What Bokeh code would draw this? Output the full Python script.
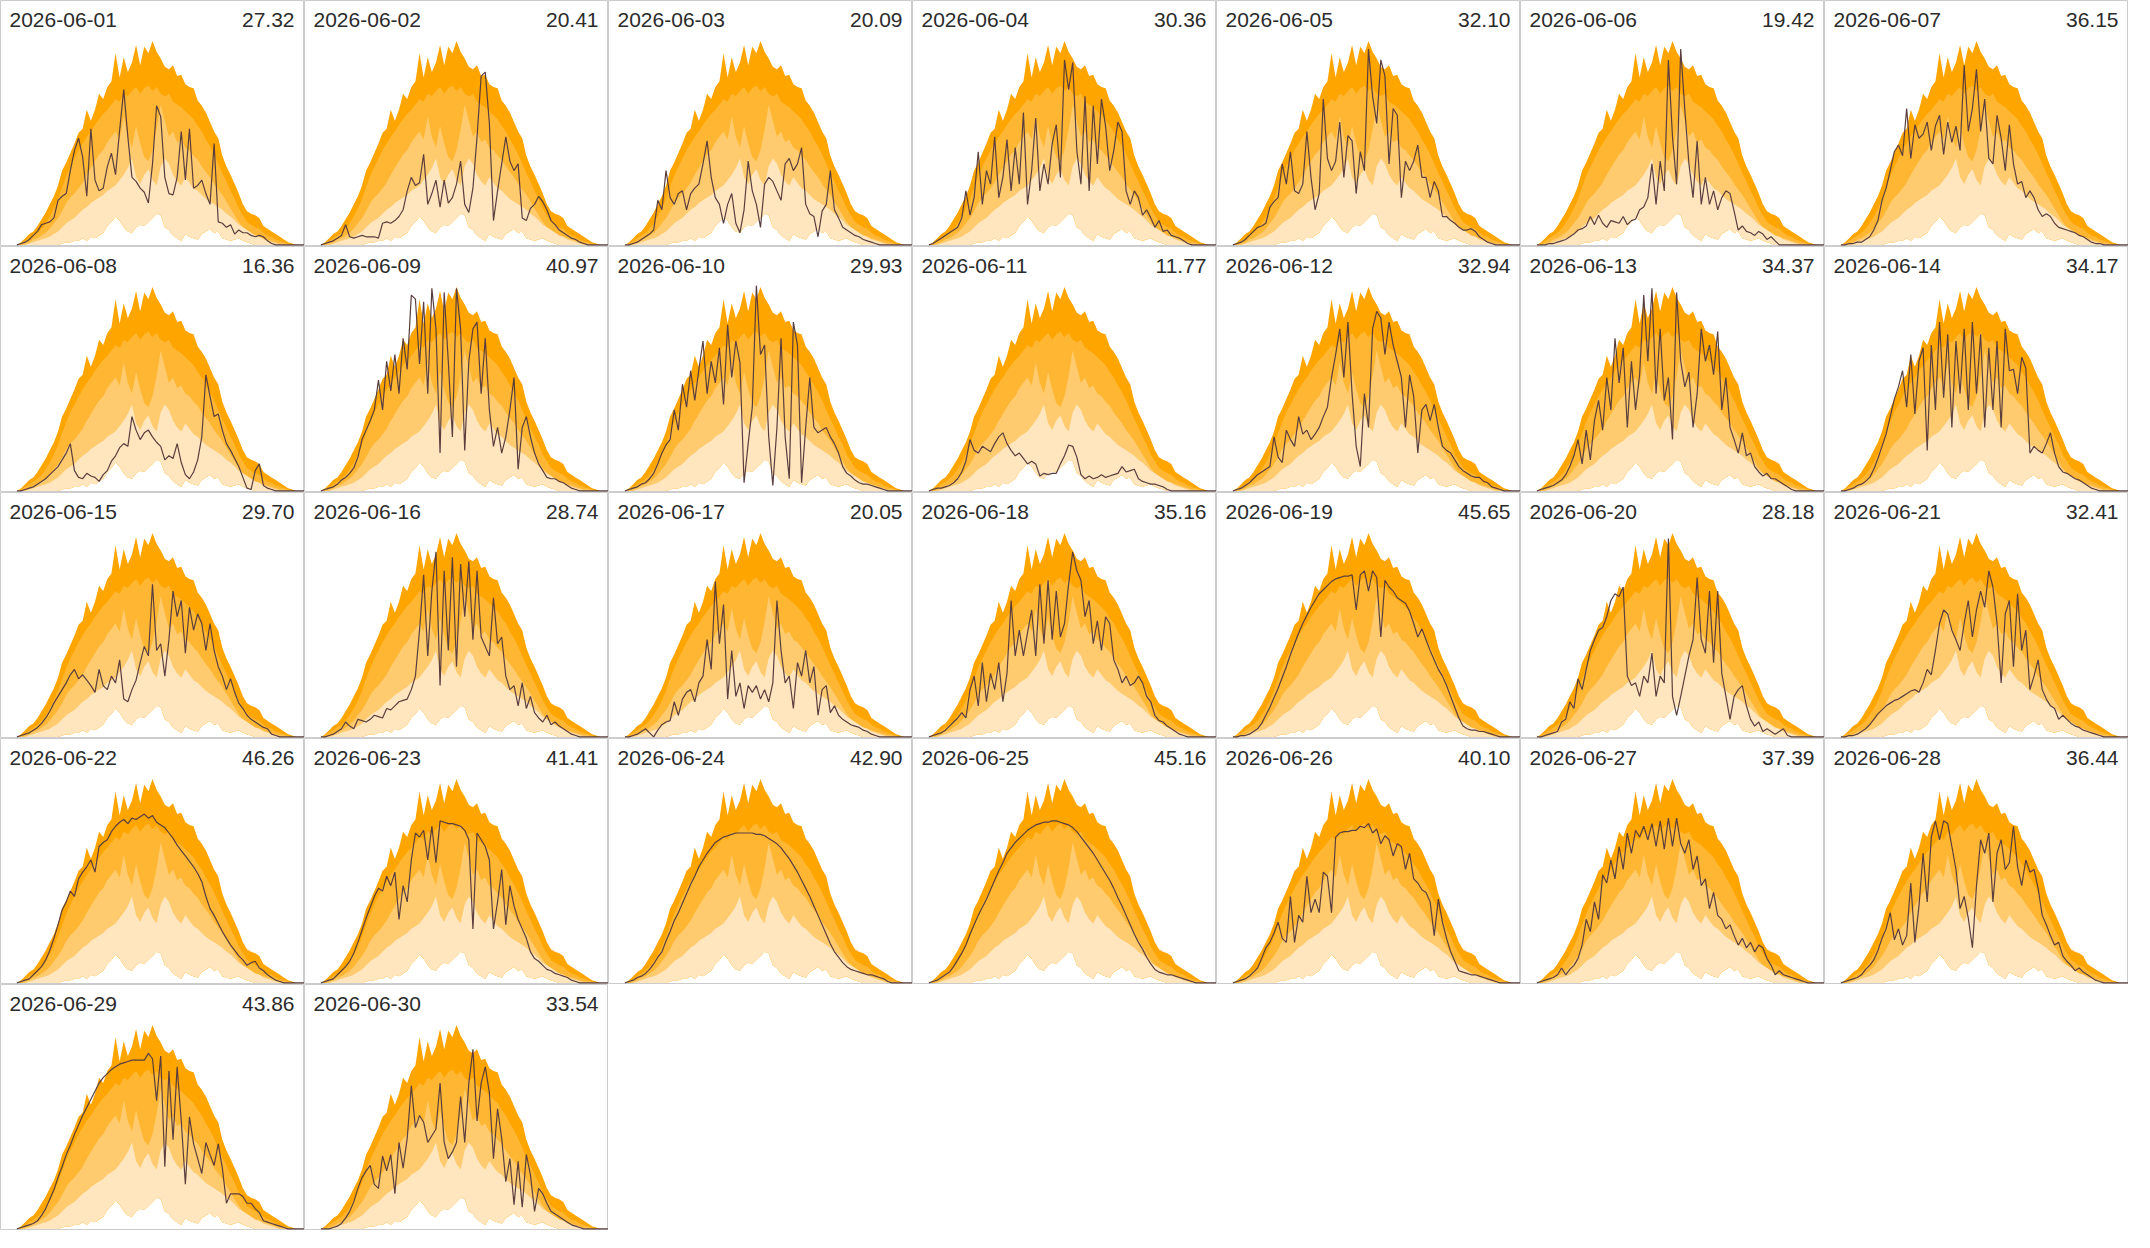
from bokeh.plotting import figure
from bokeh.layouts import gridplot
from bokeh.models import Label, Range1d
from bokeh.embed import file_html
from bokeh.resources import INLINE

# time of day (hours), 15-minute steps from 04:00 to 21:30
HOURS = [4.0 + 0.25 * i for i in range(71)]

# monthly climatology bands (same for every day)
BAND_MAX = [0, 2, 5, 8, 10, 14, 19, 24, 30, 36,
            44, 55, 61, 68, 75, 83, 86, 100, 92, 100,
            112, 108, 117, 121, 142, 124, 139, 128, 135, 148,
            133, 147, 142, 151, 143, 138, 132, 130, 133, 125,
            126, 119, 117, 116, 107, 103, 98, 91, 84, 79,
            66, 58, 52, 45, 38, 30, 25, 23, 22, 20,
            14, 12, 10, 8, 6, 4, 2, 1, 0, 0,
            0]
BAND_Q90 = [0, 1, 3, 5, 7, 9, 12, 16, 21, 27,
            34, 43, 51, 58, 64, 70, 75, 80, 84, 89,
            93, 97, 100, 104, 108, 106, 112, 110, 114, 117,
            112, 116, 118, 114, 117, 112, 110, 112, 106, 104,
            102, 99, 96, 93, 88, 84, 78, 73, 67, 60,
            53, 47, 40, 34, 27, 22, 17, 15, 13, 12,
            9, 7, 6, 4, 3, 2, 1, 0, 0, 0,
            0]
BAND_Q75 = [0, 0, 1, 2, 4, 5, 7, 9, 12, 16,
            20, 25, 31, 35, 38, 42, 46, 52, 57, 62,
            67, 70, 76, 80, 84, 78, 95, 80, 72, 88,
            75, 65, 62, 70, 85, 104, 92, 80, 84, 76,
            78, 72, 70, 66, 63, 58, 54, 50, 45, 41,
            37, 32, 27, 22, 17, 13, 11, 9, 7, 6,
            5, 4, 3, 2, 1, 1, 0, 0, 0, 0,
            0]
BAND_Q50 = [0, 0, 0, 1, 2, 3, 4, 5, 6, 8,
            10, 13, 16, 18, 20, 23, 26, 28, 31, 33,
            35, 37, 40, 42, 44, 48, 52, 57, 64, 50,
            45, 52, 56, 48, 44, 58, 64, 60, 52, 47,
            44, 50, 46, 42, 40, 37, 34, 32, 30, 28,
            26, 23, 21, 18, 15, 13, 11, 9, 7, 6,
            4, 3, 2, 1, 0, 0, 0, 0, 0, 0,
            0]
BAND_MIN = [0, 0, 0, 0, 0, 0, 0, 0, 0, 0,
            0, 1, 2, 2, 3, 3, 5, 3, 6, 5,
            7, 9, 14, 17, 21, 18, 13, 10, 9, 13,
            15, 14, 17, 20, 23, 22, 13, 11, 7, 5,
            3, 8, 6, 5, 4, 8, 10, 12, 9, 10,
            5, 4, 3, 4, 5, 3, 2, 1, 0, 0,
            0, 0, 0, 0, 0, 0, 0, 0, 0, 0,
            0]

DATES = ["2026-06-%02d" % d for d in range(1, 31)]
TOTALS = ["27.32", "20.41", "20.09", "30.36", "32.10", "19.42", "36.15",
          "16.36", "40.97", "29.93", "11.77", "32.94", "34.37", "34.17",
          "29.70", "28.74", "20.05", "35.16", "45.65", "28.18", "32.41",
          "46.26", "41.41", "42.90", "45.16", "40.10", "37.39", "36.44",
          "43.86", "33.54"]

D01 = [0, 1, 2, 4, 7, 10, 15, 16, 17, 20, 33, 36, 38, 55, 70, 79, 65, 36, 86, 48,
       40, 42, 58, 68, 52, 85, 115, 80, 50, 47, 42, 39, 31, 60, 103, 95, 50, 38, 37, 50,
       84, 48, 86, 42, 44, 48, 38, 30, 75, 17, 16, 13, 15, 8, 11, 9, 9, 7, 6, 7,
       6, 3, 1, 0, 0, 0, 0, 0, 0, 0, 0]
D02 = [0, 1, 2, 3, 5, 7, 15, 6, 5, 6, 7, 6, 6, 6, 5, 16, 17, 16, 18, 21,
       26, 40, 50, 44, 46, 67, 30, 38, 48, 28, 48, 31, 35, 45, 62, 30, 24, 42, 80, 125,
       128, 90, 18, 40, 60, 80, 62, 55, 60, 20, 18, 27, 30, 36, 32, 26, 18, 15, 11, 9,
       7, 5, 4, 2, 1, 0, 0, 0, 0, 0, 0]
D03 = [0, 0, 1, 2, 4, 6, 8, 11, 33, 26, 55, 35, 30, 38, 40, 26, 38, 42, 45, 60,
       77, 50, 35, 30, 16, 30, 38, 16, 9, 26, 62, 40, 30, 13, 45, 50, 47, 40, 33, 60,
       64, 55, 60, 72, 30, 23, 21, 6, 25, 30, 55, 26, 20, 13, 11, 9, 7, 6, 4, 3,
       2, 1, 0, 0, 0, 0, 0, 0, 0, 0, 0]
D04 = [0, 1, 3, 5, 7, 9, 11, 13, 20, 40, 22, 35, 69, 30, 55, 45, 80, 35, 50, 78,
       40, 72, 45, 98, 30, 55, 94, 40, 60, 45, 75, 89, 50, 137, 115, 135, 70, 45, 110, 40,
       103, 60, 108, 88, 55, 70, 91, 84, 40, 30, 40, 35, 22, 26, 20, 13, 18, 10, 11, 7,
       6, 5, 3, 1, 0, 0, 0, 0, 0, 0, 0]
D05 = [0, 1, 2, 4, 7, 10, 13, 14, 16, 28, 32, 35, 60, 45, 69, 40, 38, 45, 84, 50,
       26, 38, 108, 64, 55, 62, 91, 50, 81, 77, 38, 69, 55, 145, 110, 90, 137, 125, 60, 101,
       96, 35, 62, 55, 62, 74, 50, 50, 35, 47, 40, 21, 21, 18, 16, 13, 11, 11, 12, 10,
       6, 4, 2, 1, 0, 0, 0, 0, 0, 0, 0]
D06 = [0, 0, 0, 1, 1, 2, 3, 4, 6, 8, 11, 12, 14, 21, 15, 22, 16, 13, 18, 17,
       16, 21, 15, 18, 19, 26, 28, 35, 60, 30, 62, 40, 137, 80, 45, 145, 100, 60, 35, 77,
       30, 50, 30, 40, 26, 35, 40, 38, 25, 11, 14, 10, 9, 7, 10, 8, 4, 6, 3, 0,
       0, 0, 0, 0, 0, 0, 0, 0, 0, 0, 0]
D07 = [0, 0, 1, 1, 2, 2, 4, 6, 11, 18, 33, 42, 55, 69, 74, 66, 101, 64, 89, 79,
       82, 91, 70, 88, 96, 67, 91, 76, 88, 70, 133, 84, 101, 130, 84, 108, 64, 60, 96, 79,
       55, 89, 60, 45, 47, 35, 40, 35, 26, 21, 23, 21, 16, 13, 12, 11, 10, 9, 7, 6,
       4, 2, 1, 1, 0, 0, 0, 0, 0, 0, 0]
D08 = [0, 0, 1, 2, 3, 5, 7, 9, 12, 15, 18, 23, 28, 35, 15, 10, 9, 13, 11, 10,
       7, 12, 15, 22, 26, 32, 35, 33, 55, 45, 38, 43, 45, 40, 36, 33, 23, 26, 24, 35,
       21, 12, 9, 14, 23, 40, 86, 70, 55, 57, 45, 35, 30, 24, 18, 10, 2, 1, 15, 20,
       4, 2, 1, 0, 0, 0, 0, 0, 0, 0, 0]
D09 = [0, 1, 2, 3, 5, 8, 10, 13, 17, 25, 38, 45, 52, 60, 82, 60, 96, 74, 101, 72,
       113, 90, 145, 142, 94, 140, 72, 150, 120, 28, 147, 96, 40, 150, 120, 30, 96, 120, 125, 72,
       113, 60, 33, 47, 28, 40, 60, 84, 16, 47, 55, 40, 28, 20, 15, 10, 9, 9, 7, 6,
       4, 2, 1, 0, 0, 0, 0, 0, 0, 0, 0]
D10 = [0, 1, 2, 3, 5, 6, 9, 13, 20, 28, 34, 38, 60, 45, 79, 62, 89, 67, 90, 111,
       72, 96, 80, 106, 64, 123, 84, 111, 95, 6, 35, 62, 152, 101, 108, 40, 4, 47, 113, 40,
       9, 125, 108, 6, 47, 84, 47, 43, 45, 47, 40, 35, 28, 18, 13, 11, 8, 6, 5, 5,
       4, 3, 2, 1, 0, 0, 0, 0, 0, 0, 0]
D11 = [0, 1, 2, 2, 3, 4, 6, 9, 14, 22, 38, 30, 28, 33, 31, 29, 35, 40, 43, 35,
       30, 26, 28, 24, 20, 22, 20, 11, 13, 12, 13, 13, 20, 26, 34, 33, 25, 12, 9, 11,
       9, 10, 12, 10, 11, 12, 13, 18, 14, 15, 16, 9, 7, 6, 5, 5, 4, 3, 1, 0,
       0, 0, 0, 0, 0, 0, 0, 0, 0, 0, 0]
D12 = [0, 1, 2, 4, 6, 9, 12, 14, 16, 18, 40, 25, 21, 45, 38, 33, 55, 42, 45, 38,
       42, 47, 55, 62, 84, 101, 120, 84, 125, 72, 33, 18, 72, 47, 120, 133, 128, 101, 125, 108,
       96, 84, 47, 86, 70, 28, 60, 64, 52, 64, 47, 33, 30, 28, 23, 18, 15, 13, 11, 10,
       10, 7, 6, 3, 2, 1, 0, 0, 0, 0, 0]
D13 = [0, 1, 2, 3, 4, 6, 8, 12, 18, 26, 38, 20, 45, 23, 52, 67, 45, 84, 60, 113,
       80, 106, 47, 96, 60, 86, 145, 96, 150, 72, 120, 67, 84, 38, 147, 96, 77, 88, 47, 72,
       120, 96, 108, 86, 118, 60, 84, 47, 38, 28, 43, 26, 28, 18, 14, 11, 13, 9, 9, 7,
       5, 3, 1, 0, 0, 0, 0, 0, 0, 0, 0]
D14 = [0, 0, 1, 2, 4, 5, 7, 10, 16, 24, 33, 42, 55, 68, 77, 89, 62, 101, 57, 96,
       106, 30, 108, 60, 125, 69, 116, 47, 111, 72, 120, 60, 125, 72, 116, 47, 106, 60, 111, 47,
       120, 89, 90, 72, 99, 91, 28, 33, 30, 28, 35, 43, 28, 18, 14, 13, 11, 9, 8, 6,
       4, 2, 1, 0, 0, 0, 0, 0, 0, 0, 0]
D15 = [0, 1, 2, 3, 5, 7, 10, 14, 19, 25, 30, 35, 40, 46, 50, 43, 46, 42, 38, 33,
       50, 38, 35, 45, 40, 57, 28, 26, 35, 42, 55, 67, 60, 113, 64, 69, 45, 72, 108, 89,
       101, 62, 96, 79, 91, 84, 64, 84, 64, 52, 45, 35, 43, 33, 25, 21, 16, 13, 11, 9,
       7, 6, 2, 1, 0, 0, 0, 0, 0, 0, 0]
D16 = [0, 0, 1, 2, 4, 6, 11, 8, 6, 13, 12, 11, 13, 16, 15, 14, 21, 20, 23, 26,
       27, 28, 35, 45, 79, 120, 60, 108, 137, 38, 123, 64, 133, 52, 128, 89, 130, 72, 123, 74,
       67, 60, 103, 69, 74, 45, 35, 38, 23, 40, 21, 30, 18, 14, 11, 16, 9, 11, 8, 6,
       4, 2, 1, 0, 0, 0, 0, 0, 0, 0, 0]
D17 = [0, 0, 1, 2, 4, 6, 3, 0, 5, 9, 11, 12, 26, 16, 28, 33, 35, 26, 40, 45,
       72, 50, 115, 69, 98, 28, 64, 30, 40, 21, 38, 33, 38, 28, 35, 26, 40, 101, 64, 40,
       45, 21, 55, 45, 64, 40, 52, 16, 35, 38, 18, 23, 16, 13, 11, 9, 8, 7, 5, 4,
       2, 1, 0, 0, 0, 0, 0, 0, 0, 0, 0]
D18 = [0, 1, 2, 3, 5, 8, 11, 14, 18, 14, 35, 45, 23, 55, 26, 47, 35, 55, 26, 47,
       101, 60, 79, 60, 77, 94, 60, 113, 69, 116, 72, 108, 74, 84, 113, 137, 123, 116, 89, 101,
       69, 86, 64, 89, 84, 57, 50, 40, 45, 38, 40, 45, 40, 30, 26, 16, 12, 11, 8, 6,
       4, 2, 1, 0, 0, 0, 0, 0, 0, 0, 0]
D19 = [0, 0, 1, 1, 2, 4, 6, 10, 16, 22, 29, 36, 44, 52, 61, 69, 77, 84, 90, 96,
       101, 106, 109, 112, 115, 117, 118, 119, 119, 120, 94, 120, 123, 108, 123, 118, 74, 116, 111, 108,
       103, 101, 99, 93, 84, 74, 80, 72, 64, 57, 50, 45, 38, 30, 22, 14, 8, 6, 5, 5,
       4, 4, 3, 2, 1, 0, 0, 0, 0, 0, 0]
D20 = [0, 0, 1, 2, 3, 4, 11, 13, 26, 21, 43, 35, 50, 64, 72, 79, 81, 89, 101, 106,
       104, 111, 45, 38, 40, 30, 45, 40, 62, 30, 45, 40, 147, 30, 16, 30, 45, 60, 72, 118,
       72, 62, 108, 55, 108, 47, 30, 13, 30, 35, 38, 23, 13, 8, 11, 4, 6, 4, 2, 4,
       6, 1, 0, 0, 0, 0, 0, 0, 0, 0, 0]
D21 = [0, 0, 1, 1, 2, 4, 6, 9, 13, 17, 20, 23, 25, 27, 28, 30, 32, 34, 35, 33,
       40, 50, 46, 64, 84, 94, 91, 79, 72, 64, 84, 101, 74, 94, 108, 96, 123, 111, 84, 40,
       91, 101, 52, 106, 64, 79, 35, 45, 57, 35, 28, 23, 21, 13, 16, 13, 10, 8, 7, 5,
       4, 3, 2, 1, 0, 0, 0, 0, 0, 0, 0]
D22 = [0, 1, 2, 3, 6, 9, 12, 17, 24, 33, 43, 54, 60, 68, 64, 77, 82, 86, 91, 82,
       101, 104, 106, 112, 116, 119, 121, 118, 122, 121, 123, 125, 122, 124, 119, 117, 115, 111, 107, 102,
       98, 94, 90, 86, 81, 75, 64, 55, 50, 44, 38, 33, 28, 24, 20, 17, 13, 15, 16, 11,
       9, 6, 4, 2, 1, 0, 0, 0, 0, 0, 0]
D23 = [0, 1, 2, 3, 6, 9, 12, 16, 22, 30, 39, 48, 56, 64, 70, 68, 79, 72, 82, 47,
       72, 60, 91, 111, 108, 113, 91, 116, 89, 120, 119, 118, 118, 117, 116, 113, 106, 40, 111, 106,
       101, 91, 40, 60, 84, 43, 72, 57, 47, 40, 33, 23, 18, 16, 13, 10, 9, 7, 6, 5,
       4, 2, 1, 0, 0, 0, 0, 0, 0, 0, 0]
D24 = [0, 1, 2, 4, 5, 7, 10, 14, 19, 23, 31, 38, 46, 52, 59, 66, 73, 79, 86, 91,
       96, 100, 104, 106, 108, 109, 110, 111, 111, 111, 111, 111, 110, 110, 109, 107, 105, 103, 100, 96,
       92, 87, 82, 76, 70, 64, 57, 50, 43, 36, 29, 23, 19, 15, 12, 10, 9, 8, 7, 6,
       6, 5, 4, 3, 1, 0, 0, 0, 0, 0, 0]
D25 = [0, 1, 2, 4, 6, 8, 12, 17, 22, 28, 36, 43, 50, 56, 62, 69, 76, 83, 89, 96,
       100, 104, 107, 110, 113, 115, 117, 118, 119, 119, 120, 120, 119, 118, 117, 115, 112, 108, 104, 100,
       96, 91, 86, 81, 76, 70, 63, 57, 50, 43, 36, 30, 25, 19, 14, 10, 8, 7, 6, 6,
       5, 4, 3, 2, 1, 0, 0, 0, 0, 0, 0]
D26 = [0, 1, 2, 3, 5, 8, 11, 18, 26, 30, 37, 45, 33, 30, 64, 30, 50, 45, 79, 52,
       62, 52, 82, 79, 52, 108, 111, 112, 112, 113, 113, 116, 115, 118, 111, 114, 103, 109, 106, 94,
       103, 101, 84, 96, 77, 74, 69, 67, 60, 35, 62, 45, 33, 23, 16, 9, 8, 7, 6, 6,
       5, 4, 3, 2, 1, 0, 0, 0, 0, 0, 0]
D27 = [0, 1, 2, 3, 4, 6, 11, 6, 10, 13, 18, 28, 47, 38, 60, 47, 80, 74, 91, 77,
       101, 84, 111, 96, 113, 108, 116, 106, 118, 101, 120, 99, 122, 101, 122, 103, 96, 106, 84, 94,
       72, 77, 55, 67, 50, 47, 40, 43, 35, 28, 33, 26, 30, 23, 28, 26, 18, 13, 6, 9,
       6, 5, 4, 3, 2, 1, 0, 0, 0, 0, 0]
D28 = [0, 1, 2, 3, 4, 6, 10, 13, 17, 24, 33, 40, 52, 32, 40, 28, 35, 74, 30, 57,
       96, 60, 108, 120, 106, 120, 118, 101, 84, 55, 64, 48, 26, 72, 106, 96, 111, 60, 96, 106,
       84, 89, 116, 86, 72, 91, 82, 84, 70, 50, 43, 35, 28, 30, 20, 16, 13, 9, 11, 8,
       6, 4, 2, 1, 0, 0, 0, 0, 0, 0, 0]
D29 = [0, 1, 2, 3, 4, 6, 10, 15, 22, 29, 38, 46, 55, 62, 70, 77, 84, 90, 96, 102,
       108, 112, 115, 118, 120, 122, 123, 124, 125, 125, 125, 125, 130, 126, 95, 128, 46, 117, 66, 120,
       80, 33, 83, 63, 52, 41, 64, 55, 47, 63, 45, 19, 26, 26, 26, 24, 19, 19, 15, 12,
       6, 5, 4, 3, 2, 1, 0, 0, 0, 0, 0]
D30 = [0, 0, 0, 1, 2, 4, 8, 13, 20, 30, 38, 43, 47, 33, 30, 54, 43, 55, 26, 64,
       45, 67, 106, 75, 84, 79, 64, 69, 74, 108, 64, 52, 57, 64, 98, 64, 108, 133, 80, 108,
       120, 101, 52, 89, 67, 35, 52, 18, 50, 16, 55, 40, 13, 30, 26, 19, 13, 11, 9, 7,
       5, 3, 2, 1, 0, 0, 0, 0, 0, 0, 0]

DAY_SERIES = [D01, D02, D03, D04, D05, D06, D07, D08, D09, D10,
              D11, D12, D13, D14, D15, D16, D17, D18, D19, D20,
              D21, D22, D23, D24, D25, D26, D27, D28, D29, D30]

BAND_COLORS = ["#FFA500", "#FFB733", "#FFCB6E", "#FFE6BE"]
LINE_COLOR = "#5a3e3e"
TEXT_COLOR = "#2b2b2b"
FONT = "Liberation Sans"

W, H = 304, 246
NCOLS = 7


def make_panel(date, total, series):
    p = figure(width=W, height=H,
               x_range=Range1d(3.0, 21.5), y_range=Range1d(-1.2, 181.0),
               toolbar_location=None, output_backend="svg",
               x_axis_location=None, y_axis_location=None,
               min_border=0, outline_line_color="#cccccc", outline_line_width=1,
               background_fill_color="white", border_fill_color="white")
    p.grid.visible = False
    for upper, color in zip([BAND_MAX, BAND_Q90, BAND_Q75, BAND_Q50], BAND_COLORS):
        p.varea(x=HOURS, y1=BAND_MIN, y2=upper, fill_color=color, fill_alpha=1.0)
    p.line(HOURS, series, line_color=LINE_COLOR, line_width=1.2)
    p.add_layout(Label(x=9, y=H - 19, x_units="screen", y_units="screen", text=date,
                       text_align="left", text_baseline="alphabetic", text_font=FONT,
                       text_font_size="21px", text_color=TEXT_COLOR))
    p.add_layout(Label(x=W - 10, y=H - 19, x_units="screen", y_units="screen", text=total,
                       text_align="right", text_baseline="alphabetic", text_font=FONT,
                       text_font_size="21px", text_color=TEXT_COLOR))
    return p


panels = [make_panel(d, t, s) for d, t, s in zip(DATES, TOTALS, DAY_SERIES)]
rows = []
for r in range(0, len(panels), NCOLS):
    row = panels[r:r + NCOLS]
    row = row + [None] * (NCOLS - len(row))
    rows.append(row)

grid = gridplot(rows, toolbar_location=None)

with open("out.html", "w") as f:
    f.write(file_html(grid, INLINE))
